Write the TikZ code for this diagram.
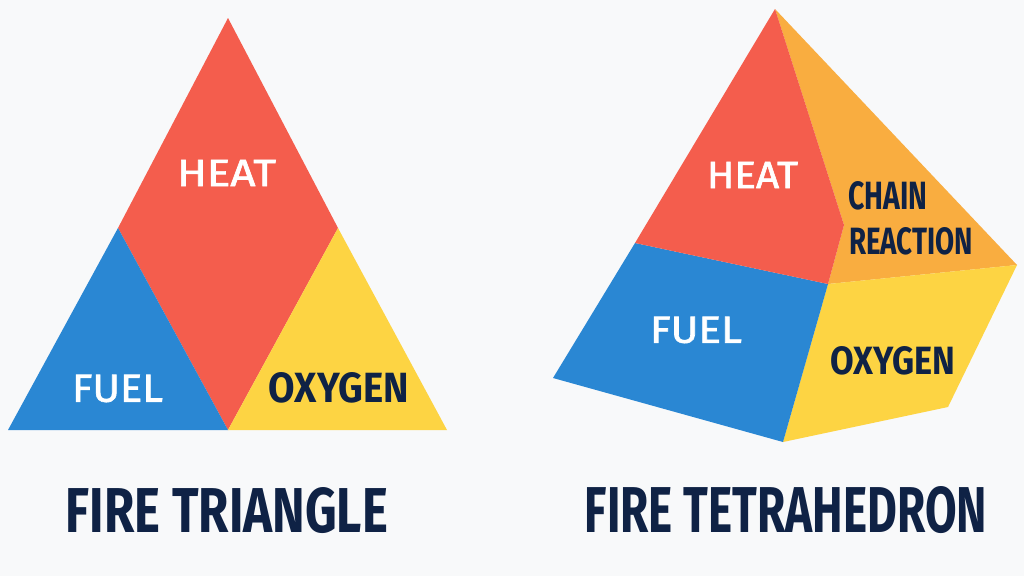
\documentclass[tikz,border=0pt]{standalone}
\usepackage{fontspec}
\usepackage{graphicx}
\setmainfont{Fira Sans}
\newfontfamily\semifont{Fira Sans}[FakeBold=1.6]
\definecolor{bgc}{HTML}{F8F9FA}
\definecolor{redf}{HTML}{F45D4D}
\definecolor{bluef}{HTML}{2A87D3}
\definecolor{yellowf}{HTML}{FDD443}
\definecolor{orangef}{HTML}{F9AD40}
\definecolor{navy}{HTML}{0F2245}
\newcommand{\fitbox}[3]{\resizebox{#1pt}{#2pt}{\bfseries #3}}
\newcommand{\fitsemi}[3]{\resizebox{#1pt}{#2pt}{\semifont #3}}
\begin{document}
\begin{tikzpicture}[x=1pt,y=-1pt,
  face/.style={line join=round},
  wlab/.style={inner sep=0pt,text=white},
  dlab/.style={inner sep=0pt,text=navy},
  ttl/.style={inner sep=0pt,text=navy}]
\fill[bgc] (0,0) rectangle (1024,576);
\useasboundingbox (0,0) rectangle (1024,576);
% ---------- Fire triangle ----------
\coordinate (tA) at (228,18);
\coordinate (tBL) at (8,430);
\coordinate (tBR) at (447,430);
\coordinate (tM) at (228,430);
\coordinate (tL) at (118,228);
\coordinate (tR) at (338,228);
\fill[face,redf] (tA) -- (tR) -- (tM) -- (tL) -- cycle;
\fill[face,bluef] (tBL) -- (tL) -- (tM) -- cycle;
\fill[face,yellowf] (tM) -- (tR) -- (tBR) -- cycle;
\node[wlab] (theat) at (226.5,173) {\fitsemi{99}{26}{HEAT}};
\node[wlab] (tfuel) at (117.5,388.5) {\fitsemi{91}{27}{FUEL}};
\node[dlab] (toxy) at (339,388) {\fitbox{140}{30}{OXYGEN}};
\node[ttl] (ttri) at (227,510.5) {\fitbox{322}{45}{FIRE TRIANGLE}};
% ---------- Fire tetrahedron ----------
\coordinate (pA) at (775,9);
\coordinate (pK) at (844,225);
\coordinate (pC) at (828,284);
\coordinate (pHL) at (635,243);
\coordinate (pL) at (553,378);
\coordinate (pB) at (783,442);
\coordinate (pR) at (1017,265);
\coordinate (pYR) at (948,407);
\fill[face,orangef] (pA) -- (pR) -- (pC) -- (pK) -- cycle;
\fill[face,yellowf] (pC) -- (pR) -- (pYR) -- (pB) -- cycle;
\fill[face,bluef] (pHL) -- (pC) -- (pB) -- (pL) -- cycle;
\fill[face,redf] (pA) -- (pK) -- (pC) -- (pHL) -- cycle;
\node[wlab] (pheat) at (752.5,175) {\fitsemi{91}{26}{HEAT}};
\node[dlab,anchor=west] (pchain) at (848,196) {\fitbox{79}{28}{CHAIN}};
\node[dlab,anchor=west] (preac) at (849,241.5) {\fitbox{124}{27}{REACTION}};
\node[wlab] (pfuel) at (696,330) {\fitsemi{92}{26}{FUEL}};
\node[dlab] (poxy) at (892.5,361) {\fitbox{125}{28}{OXYGEN}};
\node[ttl] (ptet) at (786,510) {\fitbox{402}{46}{FIRE TETRAHEDRON}};
\end{tikzpicture}
\end{document}
